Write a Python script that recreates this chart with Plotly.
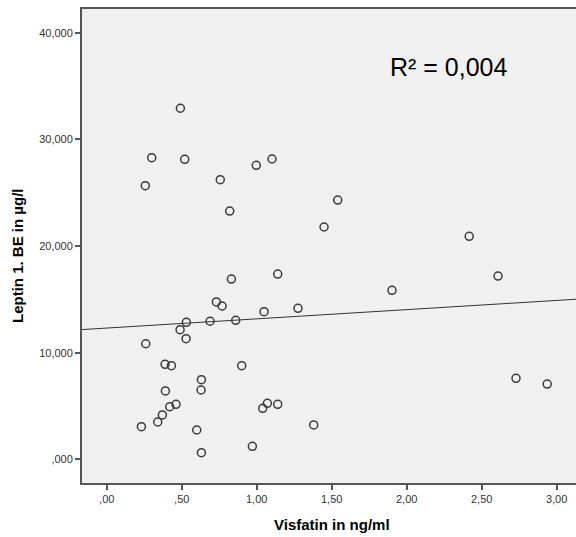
import numpy as np
import plotly.graph_objects as go

# Visfatin (ng/ml) and Leptin 1. BE (µg/l)
visfatin = [0.491, 0.300, 0.520, 0.257, 0.757, 0.820, 0.997, 1.102,
            1.540, 1.449, 2.417,
            0.831, 1.140, 0.731, 0.769, 1.049, 1.275, 0.531, 0.689, 0.860,
            0.489, 0.529, 0.260, 0.389, 0.431, 0.900, 0.631, 0.629, 0.391,
            0.462, 0.420, 0.371, 0.340, 0.231, 0.600, 0.631, 0.971, 1.040,
            1.071, 1.140,
            1.902, 2.609, 1.380, 2.729, 2.937]
leptin = [32.93, 28.29, 28.14, 25.67, 26.23, 23.29, 27.58, 28.17,
          24.32, 21.79, 20.92,
          16.91, 17.38, 14.76, 14.38, 13.85, 14.16, 12.85, 12.95, 13.04,
          12.16, 11.31, 10.84, 8.91, 8.78, 8.78, 7.47, 6.50, 6.41,
          5.16, 4.93, 4.16, 3.50, 3.06, 2.75, 0.62, 1.22, 4.78,
          5.25, 5.16,
          15.85, 17.19, 3.22, 7.60, 7.06]

x_tickvals = [0.0, 0.5, 1.0, 1.5, 2.0, 2.5, 3.0]
x_ticktext = [",00", ",50", "1,00", "1,50", "2,00", "2,50", "3,00"]
y_tickvals = [0, 10, 20, 30, 40]
y_ticktext = [",000", "10,000", "20,000", "30,000", "40,000"]

x_range = [-0.165, 3.129]
y_range = [-2.223, 42.24]

# linear fit line across the axis range
slope, intercept = np.polyfit(visfatin, leptin, 1)
fit_x = np.array(x_range)
fit_y = intercept + slope * fit_x

FONT = "Liberation Sans, Arial, sans-serif"
W, H = 576, 537
L, R, T, B = 82, 0, 9, 54
PW, PH = W - L - R, H - T - B


def px_to_paper(px, py):
    return (px - L) / PW, 1 - (py - T) / PH


fig = go.Figure()
fig.add_trace(go.Scatter(
    x=fit_x, y=fit_y, mode="lines",
    line=dict(color="#333333", width=1), hoverinfo="skip", showlegend=False))
fig.add_trace(go.Scatter(
    x=visfatin, y=leptin, mode="markers",
    marker=dict(symbol="circle-open", size=8, color="#3a3a3a",
                line=dict(width=1.5, color="#3a3a3a")),
    showlegend=False))

ax, ay = px_to_paper(449, 67)
fig.add_annotation(
    x=ax, y=ay, xref="paper", yref="paper", text="R² = 0,004",
    showarrow=False, font=dict(family=FONT, size=25, color="#000000"),
    xanchor="center", yanchor="middle")

ax, ay = px_to_paper(332, 524)
fig.add_annotation(
    x=ax, y=ay, xref="paper", yref="paper", text="<b>Visfatin in ng/ml</b>",
    showarrow=False, font=dict(family=FONT, size=15, color="#000000"),
    xanchor="center", yanchor="middle")

ax, ay = px_to_paper(18, 256)
fig.add_annotation(
    x=ax, y=ay, xref="paper", yref="paper", text="<b>Leptin 1. BE in µg/l</b>",
    showarrow=False, textangle=-90,
    font=dict(family=FONT, size=15, color="#000000"),
    xanchor="center", yanchor="middle")

fig.update_layout(
    width=W, height=H,
    margin=dict(l=L, r=R, t=T, b=B),
    paper_bgcolor="white", plot_bgcolor="#F0F0F0",
    font=dict(family=FONT, size=11, color="#333333"),
    xaxis=dict(range=x_range, tickvals=x_tickvals, ticktext=x_ticktext,
               showgrid=False, zeroline=False, showline=True, mirror=True,
               linecolor="#555555", linewidth=2, ticks="outside",
               ticklen=5, tickwidth=1.5, tickcolor="#555555",
               tickfont=dict(size=11, color="#333333")),
    yaxis=dict(range=y_range, tickvals=y_tickvals, ticktext=y_ticktext,
               showgrid=False, zeroline=False, showline=True,
               linecolor="#555555", linewidth=2, ticks="outside",
               ticklen=5, tickwidth=1.5, tickcolor="#555555",
               tickfont=dict(size=11, color="#333333")),
)

fig.write_html("out.html")
